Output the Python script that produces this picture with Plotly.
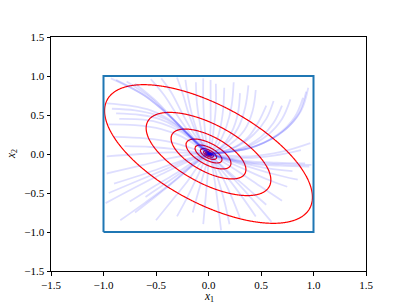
import numpy as np
import plotly.graph_objects as go

# ---------------- data ----------------
axis_ticks = [-1.5, -1.0, -0.5, 0.0, 0.5, 1.0, 1.5]
axis_range = [-1.5, 1.5]
x_label = "<i>x</i><sub>1</sub>"
y_label = "<i>x</i><sub>2</sub>"

# feasible box
box_x = [-1.0, 1.0, 1.0, -1.0, -1.0]
box_y = [-1.0, -1.0, 1.0, 1.0, -1.0]

# quadratic objective f(x) = a x1^2 + 2 b x1 x2 + d x2^2 (read from ellipse shapes)
quad_a = 1.0
quad_b = 0.694
quad_d = 1.24
quad_center = [0.0, 0.0]
outer_level = 0.599      # level of the outermost contour
level_ratio = 0.36       # ratio between consecutive contour levels
n_levels = 9

# trajectories (x, y) points
trajectories = [
    [(-0.93, 0.97), (-0.62, 0.76), (-0.40, 0.52), (-0.21, 0.27), (-0.05, 0.05), (0.01, 0.0)],
    [(-0.88, 0.95), (-0.60, 0.74), (-0.39, 0.51), (-0.20, 0.26), (-0.04, 0.04), (0.01, 0.0)],
    [(-0.78, 0.93), (-0.55, 0.72), (-0.37, 0.49), (-0.19, 0.25), (-0.04, 0.04), (0.01, 0.0)],
    [(-0.70, 0.90), (-0.50, 0.68), (-0.35, 0.47), (-0.18, 0.24), (0.01, 0.0)],
    [(-0.55, 0.96), (-0.42, 0.75), (-0.30, 0.50), (-0.15, 0.22), (0.01, 0.0)],
    [(-0.45, 0.97), (-0.35, 0.78), (-0.25, 0.52), (-0.12, 0.22), (0.01, 0.0)],
    [(-0.30, 0.98), (-0.24, 0.75), (-0.18, 0.48), (-0.09, 0.20), (0.01, 0.0)],
    [(-0.22, 0.95), (-0.19, 0.70), (-0.14, 0.42), (-0.07, 0.17), (0.01, 0.0)],
    [(-0.12, 0.92), (-0.11, 0.65), (-0.08, 0.38), (-0.04, 0.14), (0.01, 0.0)],
    [(-0.05, 0.97), (-0.05, 0.70), (-0.04, 0.40), (-0.02, 0.15), (0.01, 0.0)],
    [(-0.97, 0.65), (-0.75, 0.62), (-0.55, 0.56), (-0.35, 0.42), (-0.15, 0.20), (0.01, 0.0)],
    [(-0.92, 0.58), (-0.70, 0.56), (-0.50, 0.50), (-0.32, 0.38), (-0.13, 0.17), (0.01, 0.0)],
    [(-0.88, 0.52), (-0.65, 0.50), (-0.47, 0.45), (-0.30, 0.34), (-0.12, 0.15), (0.01, 0.0)],
    [(-0.85, 0.45), (-0.62, 0.44), (-0.44, 0.39), (-0.27, 0.29), (-0.10, 0.12), (0.01, 0.0)],
    [(-0.95, 0.38), (-0.70, 0.37), (-0.45, 0.32), (-0.25, 0.22), (-0.08, 0.08), (0.01, 0.0)],
    [(-0.90, 0.22), (-0.60, 0.20), (-0.35, 0.15), (-0.15, 0.07), (0.01, 0.0)],
    [(-0.80, 0.10), (-0.55, 0.09), (-0.30, 0.06), (-0.10, 0.02), (0.01, 0.0)],
    [(-0.97, -0.03), (-0.65, 0.00), (-0.35, 0.02), (-0.12, 0.01), (0.01, 0.0)],
    [(-0.97, -0.25), (-0.65, -0.15), (-0.35, -0.05), (-0.12, 0.00), (0.01, 0.0)],
    [(-0.90, -0.38), (-0.60, -0.25), (-0.33, -0.12), (-0.12, -0.03), (0.01, 0.0)],
    [(-0.98, -0.63), (-0.70, -0.43), (-0.45, -0.26), (-0.20, -0.10), (0.01, 0.0)],
    [(-0.95, -0.50), (-0.65, -0.33), (-0.40, -0.19), (-0.18, -0.07), (0.01, 0.0)],
    [(-0.84, -0.85), (-0.60, -0.62), (-0.38, -0.40), (-0.18, -0.18), (0.01, 0.0)],
    [(-0.75, -0.61), (-0.50, -0.40), (-0.30, -0.24), (-0.12, -0.08), (0.01, 0.0)],
    [(-0.70, -0.75), (-0.48, -0.52), (-0.28, -0.30), (-0.12, -0.11), (0.01, 0.0)],
    [(-0.60, -0.55), (-0.40, -0.37), (-0.22, -0.20), (-0.08, -0.06), (0.01, 0.0)],
    [(-0.50, -0.85), (-0.35, -0.60), (-0.20, -0.35), (-0.08, -0.12), (0.01, 0.0)],
    [(-0.30, -0.80), (-0.20, -0.55), (-0.11, -0.30), (-0.04, -0.10), (0.01, 0.0)],
    [(-0.15, -0.75), (-0.10, -0.50), (-0.05, -0.27), (-0.01, -0.09), (0.01, 0.0)],
    [(-0.05, -0.90), (-0.03, -0.60), (-0.01, -0.30), (0.00, -0.10), (0.01, 0.0)],
    [(0.12, -0.98), (0.09, -0.65), (0.06, -0.35), (0.03, -0.12), (0.01, 0.0)],
    [(0.20, -0.90), (0.15, -0.60), (0.09, -0.32), (0.04, -0.11), (0.01, 0.0)],
    [(0.30, -0.82), (0.22, -0.55), (0.13, -0.29), (0.05, -0.10), (0.01, 0.0)],
    [(0.45, -0.80), (0.32, -0.55), (0.18, -0.30), (0.06, -0.10), (0.01, 0.0)],
    [(0.60, -0.87), (0.43, -0.60), (0.24, -0.32), (0.08, -0.10), (0.01, 0.0)],
    [(0.55, -0.65), (0.38, -0.45), (0.20, -0.24), (0.07, -0.08), (0.01, 0.0)],
    [(0.70, -0.60), (0.50, -0.42), (0.28, -0.22), (0.10, -0.07), (0.01, 0.0)],
    [(0.85, -0.33), (0.60, -0.25), (0.35, -0.15), (0.12, -0.05), (0.01, 0.0)],
    [(0.75, -0.42), (0.55, -0.32), (0.30, -0.17), (0.10, -0.05), (0.01, 0.0)],
    [(0.98, -0.14), (0.70, -0.13), (0.40, -0.11), (0.15, -0.05), (0.01, 0.0)],
    [(0.96, -0.16), (0.68, -0.15), (0.38, -0.12), (0.14, -0.05), (0.01, 0.0)],
    [(0.92, -0.12), (0.65, -0.11), (0.36, -0.09), (0.13, -0.04), (0.01, 0.0)],
    [(0.97, 0.14), (0.70, 0.03), (0.40, -0.03), (0.15, -0.02), (0.01, 0.0)],
    [(0.88, 0.05), (0.62, -0.02), (0.35, -0.05), (0.12, -0.03), (0.01, 0.0)],
    [(0.80, -0.22), (0.55, -0.18), (0.30, -0.11), (0.10, -0.04), (0.01, 0.0)],
    [(0.95, 0.85), (0.88, 0.55), (0.72, 0.30), (0.45, 0.10), (0.18, 0.02), (0.01, 0.0)],
    [(0.93, 0.80), (0.86, 0.52), (0.70, 0.28), (0.43, 0.09), (0.17, 0.02), (0.01, 0.0)],
    [(0.90, 0.72), (0.82, 0.47), (0.66, 0.25), (0.40, 0.08), (0.16, 0.02), (0.01, 0.0)],
    [(0.78, 0.70), (0.70, 0.45), (0.56, 0.24), (0.35, 0.08), (0.14, 0.02), (0.01, 0.0)],
    [(0.70, 0.62), (0.62, 0.40), (0.50, 0.22), (0.30, 0.07), (0.01, 0.0)],
    [(0.62, 0.68), (0.55, 0.45), (0.43, 0.25), (0.26, 0.09), (0.01, 0.0)],
    [(0.55, 0.62), (0.48, 0.42), (0.38, 0.22), (0.22, 0.07), (0.01, 0.0)],
    [(0.45, 0.82), (0.42, 0.55), (0.34, 0.30), (0.18, 0.10), (0.01, 0.0)],
    [(0.38, 0.88), (0.35, 0.60), (0.28, 0.33), (0.15, 0.11), (0.01, 0.0)],
    [(0.30, 0.78), (0.28, 0.52), (0.22, 0.28), (0.12, 0.09), (0.01, 0.0)],
    [(0.24, 0.92), (0.22, 0.62), (0.17, 0.35), (0.09, 0.12), (0.01, 0.0)],
    [(0.15, 0.85), (0.14, 0.58), (0.11, 0.32), (0.06, 0.11), (0.01, 0.0)],
    [(0.07, 0.90), (0.07, 0.60), (0.05, 0.33), (0.03, 0.11), (0.01, 0.0)],
    [(0.02, 0.95), (0.02, 0.62), (0.02, 0.35), (0.01, 0.12), (0.01, 0.0)],
]

# ---------------- figure ----------------
fig = go.Figure()

gx = np.linspace(axis_range[0], axis_range[1], 481)
gy = np.linspace(axis_range[0], axis_range[1], 481)
X, Y = np.meshgrid(gx, gy)
DX = X - quad_center[0]
DY = Y - quad_center[1]
F = quad_a * DX**2 + 2 * quad_b * DX * DY + quad_d * DY**2
Z = np.log(np.maximum(F, 1e-12))

step = -np.log(level_ratio)
top = np.log(outer_level)
fig.add_trace(go.Contour(
    x=gx, y=gy, z=Z,
    contours=dict(coloring="lines", start=top - (n_levels - 1) * step,
                  end=top + 0.01 * step, size=step, showlabels=False),
    colorscale=[[0, "red"], [1, "red"]],
    line=dict(width=1.2),
    showscale=False, hoverinfo="skip",
))

for path in trajectories:
    xs = [p[0] for p in path]
    ys = [p[1] for p in path]
    fig.add_trace(go.Scatter(
        x=xs, y=ys, mode="lines",
        line=dict(color="rgba(0,0,255,0.13)", width=1.8, shape="spline", smoothing=1.0),
        hoverinfo="skip", showlegend=False,
    ))

fig.add_trace(go.Scatter(
    x=box_x, y=box_y, mode="lines",
    line=dict(color="#1f77b4", width=2),
    hoverinfo="skip", showlegend=False,
))

serif = "Liberation Serif"
tick_font = dict(family=serif, size=11, color="black")
axis_common = dict(
    range=axis_range, tickvals=axis_ticks, tickformat=".1f",
    showgrid=False, zeroline=False, automargin=False,
    showline=True, linecolor="black", linewidth=1, mirror=True,
    ticks="outside", ticklen=3.5, tickwidth=1, tickcolor="black",
    tickfont=tick_font,
)

fig.update_layout(
    width=407, height=305, autosize=False,
    margin=dict(l=51, r=41, t=37, b=34),
    paper_bgcolor="white", plot_bgcolor="white",
    showlegend=False,
    xaxis=axis_common,
    yaxis=axis_common,
    annotations=[
        dict(text=x_label, xref="paper", yref="paper", x=0.5, y=0,
             xanchor="center", yanchor="middle", yshift=-26, showarrow=False,
             borderpad=0, font=dict(family=serif, size=11.5, color="black")),
        dict(text=y_label, xref="paper", yref="paper", x=0, y=0.5,
             xanchor="center", yanchor="middle", xshift=-39, textangle=-90,
             borderpad=0, showarrow=False, font=dict(family=serif, size=11.5, color="black")),
    ],
)

# remove the browser's default page margin so the figure fills the window exactly
fig.write_html("out.html",
               config={"displayModeBar": False},
               post_script="document.body.style.margin='0';document.body.style.overflow='hidden';")
